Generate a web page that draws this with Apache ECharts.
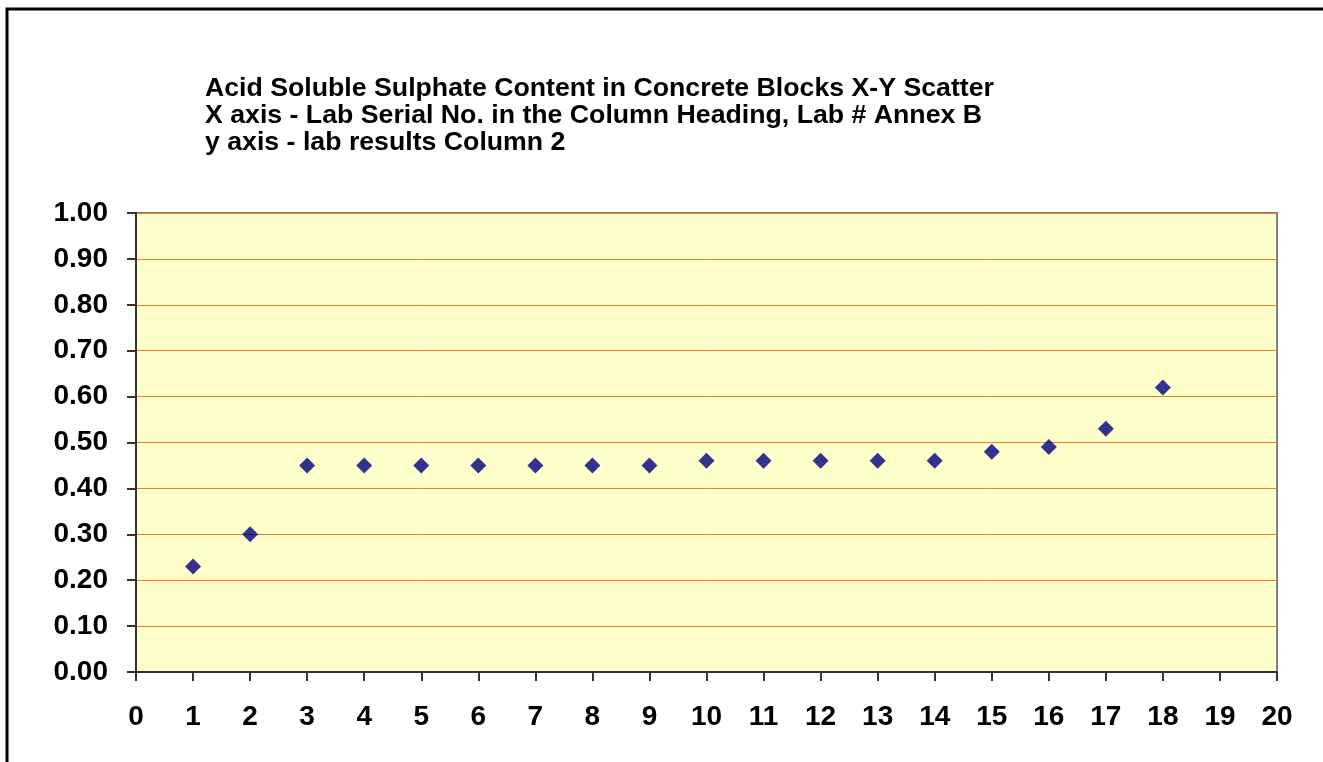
<!DOCTYPE html>
<html>
<head>
<meta charset="utf-8">
<style>html,body{margin:0;padding:0;background:#fff;}#c{width:1323px;height:762px;}</style>
<script src="https://cdn.jsdelivr.net/npm/echarts@6/dist/echarts.min.js"></script>
</head>
<body>
<div id="c"></div>
<script>
var titleLines = [
  'Acid Soluble Sulphate Content in Concrete Blocks X-Y Scatter',
  'X axis - Lab Serial No. in the Column Heading, Lab # Annex B',
  'y axis - lab results Column 2'
];
var labSerial = [1,2,3,4,5,6,7,8,9,10,11,12,13,14,15,16,17,18];
var labResults = [0.23,0.30,0.45,0.45,0.45,0.45,0.45,0.45,0.45,0.46,0.46,0.46,0.46,0.46,0.48,0.49,0.53,0.62];

var points = labSerial.map(function(x,i){return [x, labResults[i]];});
var chart = echarts.init(document.getElementById('c'));
var font = 'Arial, "Liberation Sans", sans-serif';
chart.setOption({
  animation: false,
  backgroundColor: '#ffffff',
  graphic: [{
    type: 'rect', silent: true, z: 100,
    shape: {x: 7, y: 9, width: 1400, height: 800},
    style: {fill: 'none', stroke: '#000', lineWidth: 3}
  }],
  title: {
    text: titleLines.join('\n'),
    left: 205, top: 75,
    padding: 0,
    textStyle: {fontFamily: font, fontWeight: 'bold', fontSize: 26.7, lineHeight: 27, color: '#000'}
  },
  grid: {
    left: 136, top: 213, right: 46, bottom: 90,
    show: true, backgroundColor: '#FFFFCC', borderColor: '#808080', borderWidth: 2
  },
  xAxis: {
    type: 'value', min: 0, max: 20, interval: 1,
    axisLine: {show: true, onZero: false, lineStyle: {color: '#333', width: 2}},
    axisTick: {show: true, length: 9, lineStyle: {color: '#333', width: 2}},
    axisLabel: {fontFamily: font, fontWeight: 'bold', fontSize: 28, color: '#000', margin: 31},
    splitLine: {show: false}
  },
  yAxis: {
    type: 'value', min: 0, max: 1, interval: 0.1,
    axisLine: {show: true, onZero: false, lineStyle: {color: '#333', width: 2}},
    axisTick: {show: true, length: 9, lineStyle: {color: '#333', width: 2}},
    axisLabel: {fontFamily: font, fontWeight: 'bold', fontSize: 28, color: '#000', margin: 28,
      formatter: function(v){return v.toFixed(2);}},
    splitLine: {show: true, lineStyle: {color: '#E8801E', width: 1}}
  },
  series: [{
    type: 'scatter',
    data: points,
    symbol: 'diamond',
    symbolSize: [16, 16],
    itemStyle: {color: '#000080'}
  }]
});
</script>
</body>
</html>
